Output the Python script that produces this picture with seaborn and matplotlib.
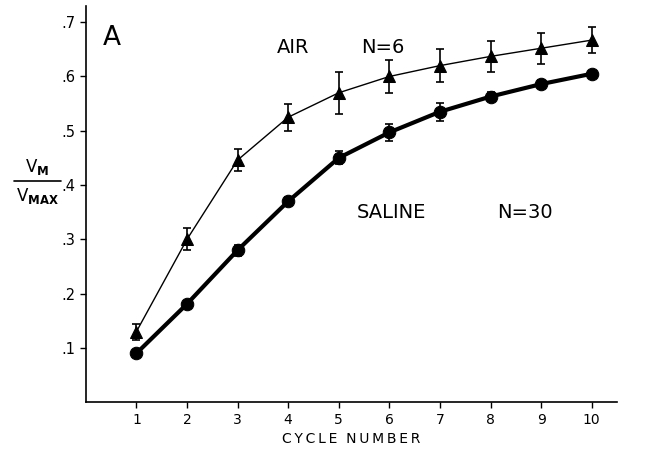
import numpy as np
import pandas as pd
import seaborn as sns
import matplotlib
matplotlib.use("Agg")
import matplotlib.pyplot as plt

# values
cycles = [1, 2, 3, 4, 5, 6, 7, 8, 9, 10]
air_mean = [0.13, 0.30, 0.446, 0.525, 0.570, 0.600, 0.620, 0.637, 0.652, 0.667]
air_err = [0.015, 0.020, 0.021, 0.025, 0.039, 0.030, 0.030, 0.029, 0.029, 0.024]
saline_mean = [0.09, 0.181, 0.280, 0.370, 0.450, 0.497, 0.535, 0.563, 0.586, 0.605]
saline_err = [0.005, 0.006, 0.010, 0.008, 0.012, 0.015, 0.017, 0.008, 0.008, 0.006]
y_ticks = [0.1, 0.2, 0.3, 0.4, 0.5, 0.6, 0.7]
y_tick_labels = ['.1', '.2', '.3', '.4', '.5', '.6', '.7']

df = pd.DataFrame({
    'cycle': cycles * 2,
    'value': air_mean + saline_mean,
    'group': ['AIR'] * 10 + ['SALINE'] * 10,
})

sns.set_style('ticks')
plt.rcParams['font.family'] = ['DejaVu Sans']
plt.rcParams['text.color'] = 'black'

fig = plt.figure(figsize=(6.55, 4.55), dpi=100)
ax = fig.add_axes([0.131, 0.116, 0.811, 0.871])

# error bars first so markers sit on top
ax.errorbar(cycles, air_mean, yerr=air_err, fmt='none', ecolor='black',
            elinewidth=1.2, capsize=3, capthick=1.2, zorder=2)
ax.errorbar(cycles, saline_mean, yerr=saline_err, fmt='none', ecolor='black',
            elinewidth=1.2, capsize=3, capthick=1.2, zorder=2)

air = df[df['group'] == 'AIR']
sal = df[df['group'] == 'SALINE']
sns.lineplot(data=air, x='cycle', y='value', ax=ax, color='black', linewidth=1.0,
             marker='^', markersize=9, markeredgecolor='black', zorder=3)
sns.lineplot(data=sal, x='cycle', y='value', ax=ax, color='black', linewidth=3.0,
             marker='o', markersize=9, markeredgecolor='black', zorder=3)

ax.set_xlim(0, 10.5)
ax.set_ylim(0, 0.73)
ax.set_xticks(cycles)
ax.set_xticklabels([str(c) for c in cycles], fontsize=10)
ax.set_yticks(y_ticks)
ax.set_yticklabels(y_tick_labels, fontsize=10.5)
ax.tick_params(direction='out', length=4, width=1, colors='black')
sns.despine(ax=ax)
for s in ['left', 'bottom']:
    ax.spines[s].set_linewidth(1.2)
    ax.spines[s].set_color('black')

# letter-spaced axis title, thin spaces between letters
ax.set_xlabel('C\u2009Y\u2009C\u2009L\u2009E  N\u2009U\u2009M\u2009B\u2009E\u2009R',
              fontsize=10, labelpad=4, color='black')
ax.set_ylabel('')

# y label as a fraction
fig.text(0.057, 0.610, r'$\mathregular{V_{\mathbf{M}}}$', ha='center', va='bottom', fontsize=12)
fig.text(0.057, 0.592, r'$\mathregular{V_{\mathbf{MAX}}}$', ha='center', va='top', fontsize=12)
fig.add_artist(plt.Line2D([0.021, 0.093], [0.602, 0.602], color='black', linewidth=1.2))

ax.text(0.032, 0.919, 'A', transform=ax.transAxes, fontsize=19, va='center', ha='left')
ax.text(3.77, 0.654, 'AIR', fontsize=14, ha='left', va='center')
ax.text(5.45, 0.654, 'N=6', fontsize=14, ha='left', va='center')
ax.text(5.35, 0.350, 'SALINE', fontsize=14, ha='left', va='center')
ax.text(8.13, 0.350, 'N=30', fontsize=14, ha='left', va='center')

fig.savefig('out.png', dpi=100)
